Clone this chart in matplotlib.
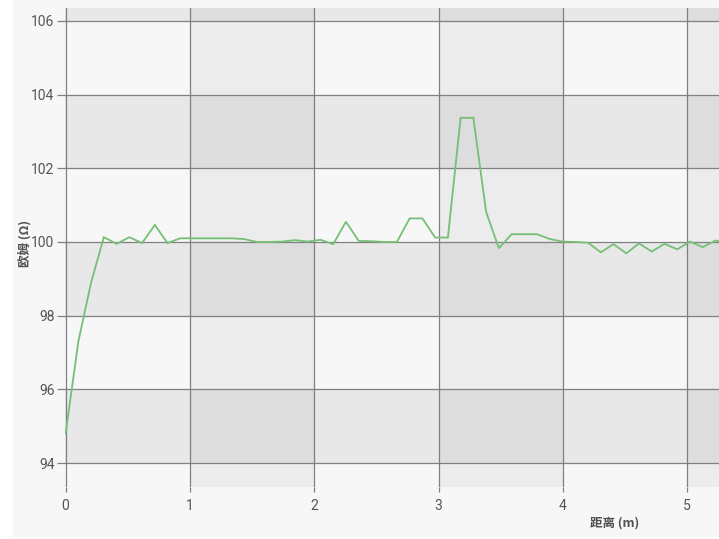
import numpy as np
import matplotlib.pyplot as plt
from matplotlib.patches import Rectangle

# distance along the cable (m) and measured impedance (ohm)
distance = [0.0, 0.1025, 0.205, 0.3075, 0.41, 0.5125, 0.615, 0.7175, 0.82, 0.9225,
            1.025, 1.1275, 1.23, 1.3325, 1.435, 1.5375, 1.64, 1.7425, 1.845, 1.9475,
            2.05, 2.1525, 2.255, 2.3575, 2.46, 2.5625, 2.665, 2.7675, 2.87, 2.9725,
            3.075, 3.1775, 3.28, 3.3825, 3.485, 3.5875, 3.69, 3.7925, 3.895, 3.9975,
            4.1, 4.2025, 4.305, 4.4075, 4.51, 4.6125, 4.715, 4.8175, 4.92, 5.0225,
            5.125, 5.2275, 5.33]
ohms = [94.8, 97.3, 98.9, 100.13, 99.95, 100.13, 99.97, 100.46, 99.97, 100.10,
        100.10, 100.10, 100.10, 100.10, 100.08, 100.0, 100.0, 100.01, 100.05, 100.01,
        100.06, 99.94, 100.55, 100.03, 100.02, 100.0, 100.0, 100.64, 100.64, 100.12,
        100.12, 103.37, 103.37, 100.82, 99.83, 100.21, 100.21, 100.21, 100.08, 100.01,
        100.0, 99.98, 99.72, 99.94, 99.69, 99.96, 99.74, 99.95, 99.80, 100.01,
        99.86, 100.04, 99.97]

x_ticks = [0, 1, 2, 3, 4, 5]
y_ticks = [94, 96, 98, 100, 102, 104, 106]

W, H = 719, 539
fig = plt.figure(figsize=(W / 100, H / 100), dpi=100, facecolor="white")

# light panel behind the chart
fig.patches.append(Rectangle((13 / W, 2 / H), 1 - 13 / W, 1 - 2 / H,
                             transform=fig.transFigure, facecolor="#f7f7f7",
                             edgecolor="none", zorder=-10))

ax = fig.add_axes([65 / W, (H - 487) / H, (W - 65) / W, (487 - 8) / H])
ax.set_facecolor("#f7f7f7")
ax.set_xlim(-0.005, 5.256)
ax.set_ylim(93.35, 106.35)

# alternating row and column bands
for y0 in range(94, 108, 4):
    ax.axhspan(y0, y0 + 2, color="black", alpha=0.06, lw=0, zorder=0)
for x0 in range(1, 7, 2):
    ax.axvspan(x0, x0 + 1, color="black", alpha=0.045, lw=0, zorder=0)

ax.grid(True, color="#808080", lw=0.9, zorder=1)
ax.set_axisbelow(True)
for s in ax.spines.values():
    s.set_visible(False)

ax.plot(distance, ohms, color="#76bf76", lw=1.3, zorder=3, solid_joinstyle="miter")

ax.set_xticks(x_ticks)
ax.set_yticks(y_ticks)
ax.tick_params(axis="y", length=5.5, width=0.9, color="#808080", pad=2,
               labelsize=10, labelcolor="#555555")
ax.tick_params(axis="x", length=3.8, width=0.9, color="#808080", pad=5,
               labelsize=10, labelcolor="#555555")
for lab in ax.get_xticklabels() + ax.get_yticklabels():
    lab.set_family(["Roboto", "DejaVu Sans"])

cjk = ["Noto Sans CJK SC", "DejaVu Sans"]
fig.text(615 / W, 1 - 523 / H, "距离 (m)", ha="center", va="center",
         fontsize=9, fontweight="bold", color="#505050", family=cjk)
fig.text(25 / W, 1 - 243 / H, "欧姆 (Ω)", ha="center", va="center", rotation=90,
         fontsize=9, fontweight="bold", color="#505050", family=cjk)

fig.savefig("out.png", dpi=100, facecolor=fig.get_facecolor())
